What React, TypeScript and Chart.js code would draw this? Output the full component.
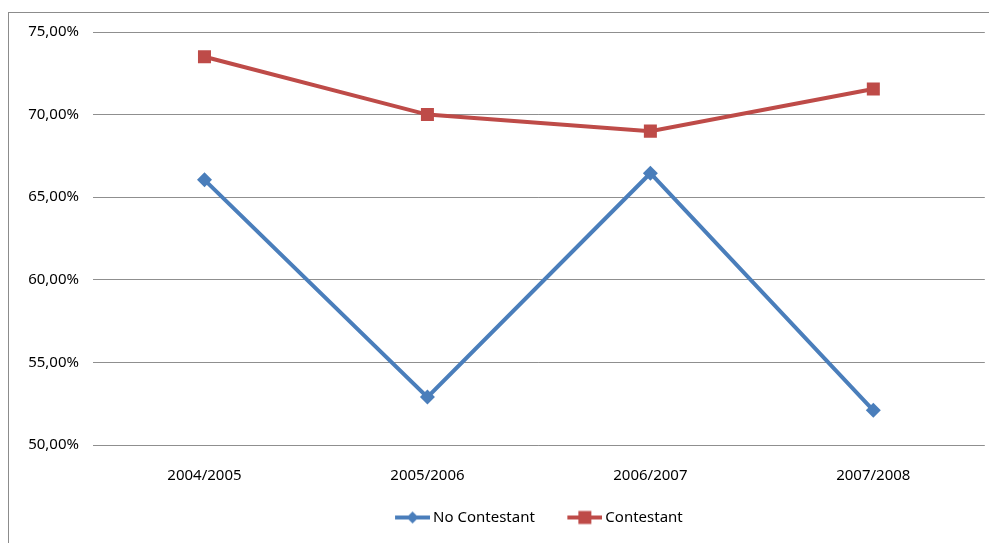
import React, { useEffect, useRef } from "react";
import { Chart, registerables } from "chart.js";
Chart.register(...registerables);

const categories = ["2004/2005", "2005/2006", "2006/2007", "2007/2008"];
const noContestant = [66.05, 52.9, 66.45, 52.1];
const contestant = [73.5, 70.0, 69.0, 71.55];
const yMin = 50;
const yMax = 75;
const yStep = 5;
const seriesNames = ["No Contestant", "Contestant"];

const BLUE = "#4A7EBB";
const RED = "#BE4B48";
const ICON_LEFT_BLANK = 17;

function legendIcon(color: string, kind: "diamond" | "square") {
  const c = document.createElement("canvas");
  c.width = 52;
  c.height = 16;
  const ctx = c.getContext("2d")!;
  ctx.strokeStyle = color;
  ctx.lineWidth = 4;
  ctx.beginPath();
  ctx.moveTo(ICON_LEFT_BLANK, 8);
  ctx.lineTo(52, 8);
  ctx.stroke();
  ctx.fillStyle = color;
  const cx = 34.5;
  if (kind === "diamond") {
    ctx.beginPath();
    ctx.moveTo(cx, 2);
    ctx.lineTo(cx + 6, 8);
    ctx.lineTo(cx, 14);
    ctx.lineTo(cx - 6, 8);
    ctx.closePath();
    ctx.fill();
  } else {
    ctx.fillRect(cx - 6.5, 1.5, 13, 13);
  }
  return c;
}

export default function App() {
  const ref = useRef<HTMLCanvasElement>(null);
  useEffect(() => {
    if (!ref.current) return;
    Chart.defaults.font.family = "'Noto Sans', sans-serif";
    Chart.defaults.font.size = 15;
    Chart.defaults.color = "#000";
    const icons = [legendIcon(BLUE, "diamond"), legendIcon(RED, "square")];
    const centerLegend = {
      id: "centerLegend",
      afterLayout(chart: any) {
        const lg = chart.legend;
        if (!lg) return;
        const w = lg.right - lg.left;
        const c = (chart.chartArea.left + chart.chartArea.right) / 2 - 6.25;
        lg.left = c - w / 2;
        lg.right = c + w / 2;
      },
    };
    const chart = new Chart(ref.current, {
      type: "line",
      data: {
        labels: categories,
        datasets: [
          {
            label: seriesNames[0],
            data: noContestant,
            borderColor: BLUE,
            backgroundColor: BLUE,
            borderWidth: 4,
            pointStyle: "rectRot",
            pointRadius: 7.5,
            pointBorderWidth: 0,
            tension: 0,
          },
          {
            label: seriesNames[1],
            data: contestant,
            borderColor: RED,
            backgroundColor: RED,
            borderWidth: 4,
            pointStyle: "rect",
            pointRadius: 9.2,
            pointBorderWidth: 0,
            tension: 0,
          },
        ],
      },
      options: {
        animation: false,
        responsive: false,
        layout: { padding: { left: 8, right: 4, top: 32, bottom: 8 } },
        scales: {
          x: {
            offset: true,
            grid: { display: false },
            border: { display: false },
            ticks: { padding: 14 },
            afterFit: (s: any) => {
              s.height = 45;
              s.paddingLeft = 0;
              s.paddingRight = 0;
            },
          },
          y: {
            min: yMin,
            max: yMax,
            grid: { color: "#8f8f8f", lineWidth: 1, drawTicks: false },
            border: { display: false },
            ticks: {
              stepSize: yStep,
              padding: 14,
              callback: (v: any) => Number(v).toFixed(2).replace(".", ",") + "%",
            },
            afterFit: (s: any) => {
              s.width = 85;
            },
          },
        },
        plugins: {
          legend: {
            position: "bottom",
            labels: {
              usePointStyle: true,
              pointStyleWidth: 43,
              padding: 20,
              generateLabels: (ch: any) =>
                ch.data.datasets.map((d: any, i: number) => ({
                  text: d.label,
                  pointStyle: icons[i],
                  fillStyle: d.borderColor,
                  strokeStyle: d.borderColor,
                  lineWidth: 0,
                  datasetIndex: i,
                  hidden: false,
                })),
            },
          },
          tooltip: { enabled: false },
        },
      },
      plugins: [centerLegend],
    });
    return () => chart.destroy();
  }, []);
  return (
    <div style={{ position: "fixed", left: 0, top: 0, width: 989, height: 543, background: "#fff", overflow: "hidden" }}>
      <canvas ref={ref} width={994} height={543} style={{ position: "absolute", left: 0, top: 0 }} />
      <div
        style={{
          position: "absolute",
          left: 8,
          top: 12,
          width: 981,
          height: 531,
          borderLeft: "1px solid #8c8c8c",
          borderTop: "1px solid #8c8c8c",
          boxSizing: "border-box",
          pointerEvents: "none",
        }}
      />
    </div>
  );
}
